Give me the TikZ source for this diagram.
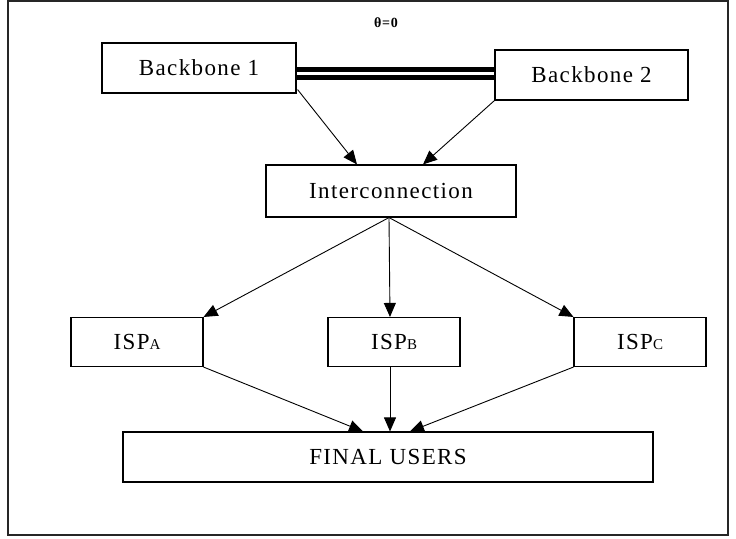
\documentclass[tikz,border=0pt]{standalone}
\usepackage{fontspec}
\setmainfont{Liberation Serif}
\usetikzlibrary{arrows.meta}

\tikzset{
  box/.style={draw, line width=1.1pt, inner sep=0pt, align=center,
    font=\fontsize{23}{26}\selectfont\addfontfeatures{LetterSpace=6}},
  link/.style={line width=0.9pt, -{Triangle[length=14pt,width=12pt]}},
}

\begin{document}
\begin{tikzpicture}[x=1pt, y=-1pt]
    % 外框
    \useasboundingbox (0,0) rectangle (736,538);
    \draw[black!85, line width=1.4pt] (8,1) rectangle (728,535);

    % 标题
    \node (theta) at (386,23) {\fontsize{14}{16}\selectfont\bfseries\addfontfeatures{LetterSpace=6}θ=0};

    % 两个骨干网
    \node[box, minimum width=194pt, minimum height=50pt] (bb1) at (199,68) {Backbone 1};
    \node[box, minimum width=193pt, minimum height=50pt] (bb2) at (591.5,75) {Backbone 2};

    % 骨干网之间的双线 (水平)
    \draw[line width=4.5pt] (bb1.east |- 0,69.5) -- (bb2.west |- 0,69.5);
    \draw[line width=4.5pt] (bb1.east |- 0,77.5) -- (bb2.west |- 0,77.5);

    % 互联
    \node[box, minimum width=250pt, minimum height=52pt] (ic) at (391,191) {Interconnection};
    \draw[link] ([shift={(1pt,4pt)}]bb1.south east) -- ([xshift=-34pt]ic.north);
    \draw[link] (bb2.south west) -- ([xshift=32pt]ic.north);

    % 三个 ISP
    \node[box, minimum width=132pt, minimum height=49pt] (ispA) at (137,342)
      {ISP{\fontsize{15}{17}\selectfont A}};
    \node[box, minimum width=132pt, minimum height=49pt] (ispB) at (394,342)
      {ISP{\fontsize{15}{17}\selectfont B}};
    \node[box, minimum width=132pt, minimum height=49pt] (ispC) at (640,342)
      {ISP{\fontsize{15}{17}\selectfont C}};
    \draw[link] ([xshift=-2pt]ic.south) -- (ispA.north east);
    \draw[link] ([xshift=-2pt]ic.south) -- ([xshift=-4pt]ispB.north);
    \draw[link] ([xshift=-2pt]ic.south) -- (ispC.north west);

    % 最终用户
    \node[box, minimum width=530pt, minimum height=50pt] (fu) at (388,457) {FINAL USERS};
    \draw[link] (ispA.south east) -- ([xshift=-25pt]fu.north);
    \draw[link] ([xshift=-4pt]ispB.south) -- ([xshift=2pt]fu.north);
    \draw[link] (ispC.south west) -- ([xshift=22pt]fu.north);
\end{tikzpicture}
\end{document}
